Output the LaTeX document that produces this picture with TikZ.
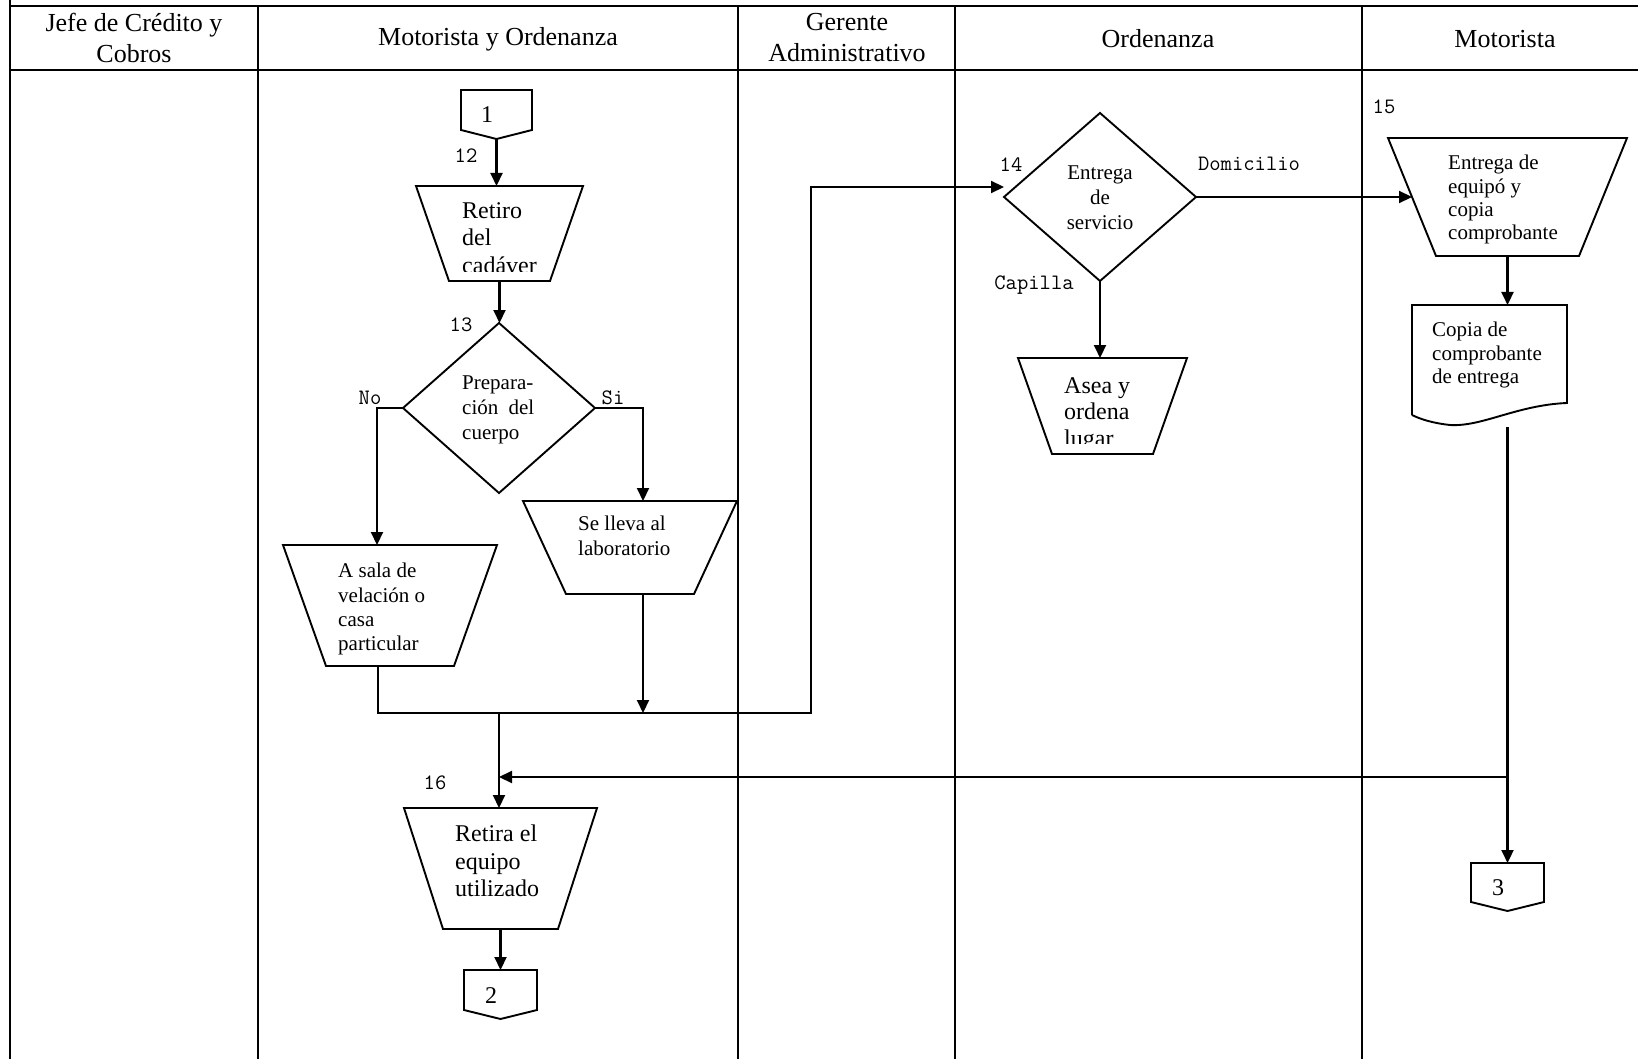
\documentclass[tikz,border=0pt]{standalone}
\usepackage{fontspec}
\setmainfont{Liberation Serif}
\usetikzlibrary{arrows.meta,calc}
\tikzset{
  lane/.style={line width=2.7pt},
  shp/.style={draw, line width=1.9pt},
  frame/.style={draw=none, inner sep=0pt, outer sep=0pt},
  arr/.style={line width=2.1pt, -{Triangle[length=13pt,width=12pt]}},
  hdr/.style={inner sep=0pt, align=center, font=\fontsize{26}{31}\selectfont},
  txt/.style={inner sep=0pt, anchor=north west, align=left},
  num/.style={inner sep=0pt, font=\fontsize{22}{24}\ttfamily},
}
\newcommand\trap[2]{\draw[shp] (#1.north west) -- (#1.north east) -- ([xshift=-#2]#1.south east) -- ([xshift=#2]#1.south west) -- cycle;}
\newcommand\offpage[1]{\draw[shp] (#1.north west) -- (#1.north east) -- ([yshift=9pt]#1.south east) -- (#1.south) -- ([yshift=9pt]#1.south west) -- cycle;}
\newcommand\diam[1]{\draw[shp] (#1.north) -- (#1.east) -- (#1.south) -- (#1.west) -- cycle;}
\begin{document}
\begin{tikzpicture}[x=1pt,y=-1pt]
\useasboundingbox (0,0) rectangle (1638,1059);
% lanes
\draw[lane] (10,0) -- (10,1059);
\draw[lane] (10,6) -- (1638,6);
\draw[lane] (10,70) -- (1638,70);
\foreach \x in {258,738,955,1362} \draw[lane] (\x,6) -- (\x,1059);
% headers
\node[hdr] (h1) at (134,38) {Jefe de Crédito y\\Cobros};
\node[hdr] (h2) at (498,39) {Motorista y Ordenanza};
\node[hdr] (h3) at (847,38) {Gerente\\Administrativo};
\node[hdr] (h4) at (1158,39) {Ordenanza};
\node[hdr] (h5) at (1505,39) {Motorista};

% connector 1
\node[frame, minimum width=71pt, minimum height=49pt] (c1) at (496.5,114.5) {};
\offpage{c1}
\node[inner sep=0pt, font=\fontsize{24}{28}\selectfont] (c1t) at (487,115) {1};
% Retiro
\node[frame, minimum width=167pt, minimum height=95pt] (retiro) at (499.5,233.5) {};
\trap{retiro}{33pt}
\begin{scope}
\clip (retiro.north west) rectangle ([yshift=9pt]retiro.south east);
\node[txt, font=\fontsize{24}{27.5}\selectfont] (retirot) at (462,202) {Retiro\\del\\cadáver};
\end{scope}
% diamond 13
\node[frame, minimum width=192pt, minimum height=170pt] (d13) at (499,408) {};
\diam{d13}
\node[txt, font=\fontsize{21}{25}\selectfont] (d13t) at (462,376) {Prepara-\\\makebox[72pt][s]{ción del}\\cuerpo};
% A sala
\node[frame, minimum width=214pt, minimum height=121pt] (asala) at (390,605.5) {};
\trap{asala}{43pt}
\node[txt, font=\fontsize{21}{24.4}\selectfont] (asalat) at (338,563) {A sala de\\velación o\\casa\\particular};
% Se lleva
\node[frame, minimum width=214pt, minimum height=93pt] (selleva) at (630,547.5) {};
\trap{selleva}{43pt}
\node[txt, font=\fontsize{21}{25}\selectfont] (sellevat) at (578,516) {Se lleva al\\laboratorio};
% Retira
\node[frame, minimum width=193pt, minimum height=121pt] (retira) at (500.5,868.5) {};
\trap{retira}{39pt}
\node[txt, font=\fontsize{24}{27.5}\selectfont] (retirat) at (455,825) {Retira el\\equipo\\utilizado};
% connector 2
\node[frame, minimum width=73pt, minimum height=49pt] (c2) at (500.5,994.5) {};
\offpage{c2}
\node[inner sep=0pt, font=\fontsize{24}{28}\selectfont] (c2t) at (491,996) {2};
% diamond 14
\node[frame, minimum width=192pt, minimum height=168pt] (d14) at (1100,197) {};
\diam{d14}
\node[inner sep=0pt, anchor=north, align=center, font=\fontsize{21}{25}\selectfont] (d14t) at (1100,166) {Entrega\\de\\servicio};
% Asea
\node[frame, minimum width=169pt, minimum height=96pt] (asea) at (1102.5,406) {};
\trap{asea}{34pt}
\begin{scope}
\clip (asea.north west) rectangle ([yshift=11pt]asea.south east);
\node[txt, font=\fontsize{24}{26.5}\selectfont] (aseat) at (1064,377) {Asea y\\ordena\\lugar};
\end{scope}
% Entrega de equipo
\node[frame, minimum width=239pt, minimum height=118pt] (equipo) at (1507.5,197) {};
\trap{equipo}{48pt}
\node[txt, font=\fontsize{21}{23.3}\selectfont] (equipot) at (1448,155) {Entrega de\\equipó y\\copia\\comprobante};
% document
\node[frame, minimum width=155pt, minimum height=110pt] (doc) at (1489.5,360) {};
\draw[shp] (doc.south west) -- (doc.north west) -- (doc.north east) -- ([yshift=12pt]doc.south east)
  .. controls ([xshift=-50pt,yshift=10pt]doc.south east) and ([xshift=70pt,yshift=-12pt]doc.south west) .. ([xshift=38pt,yshift=-10pt]doc.south west)
  .. controls ([xshift=20pt,yshift=-8pt]doc.south west) and ([xshift=8pt,yshift=-4pt]doc.south west) .. (doc.south west);
\node[txt, font=\fontsize{21}{23.5}\selectfont] (doct) at (1432,322) {Copia de\\comprobante\\de entrega};
% connector 3
\node[frame, minimum width=73pt, minimum height=48pt] (c3) at (1507.5,887) {};
\offpage{c3}
\node[inner sep=0pt, font=\fontsize{24}{28}\selectfont] (c3t) at (1498,888) {3};

% labels
\node[num] (n12) at (466,156) {12};
\node[num] (n13) at (461,325) {13};
\node[num] (n14) at (1011,165) {14};
\node[num] (n15) at (1384,107) {15};
\node[num] (n16) at (435,783) {16};
\node[num] (lno) at (370,398) {No};
\node[num] (lsi) at (613,398) {Si};
\node[num] (ldom) at (1249,164) {Domicilio};
\node[num] (lcap) at (1034,285) {Capilla};

% coordinates
\coordinate (j1) at (499,713);
\coordinate (j2) at (811,713);
\coordinate (dstart) at (1507.5,427);
\coordinate (j3) at (1507.5,777);

% connectors
\draw[arr] (c1.south) -- (c1.south |- retiro.north);
\draw[arr] (retiro.south) -- (retiro.south |- d13.north);
\draw[arr] (d13.west) -| ([xshift=-13pt]asala.north);
\draw[arr] (d13.east) -| ([xshift=13pt]selleva.north);
\draw[arr] ([xshift=-12pt]asala.south) |- (j2) |- ([yshift=10pt]d14.west);
\draw[arr] ([xshift=13pt]selleva.south) -- ([xshift=13pt]selleva.south |- j1);
\draw[arr] (j1) -- (j1 |- retira.north);
\draw[arr] (retira.south) -- (retira.south |- c2.north);
\draw[arr] (d14.south) -- (d14.south |- asea.north);
\draw[arr] (d14.east) -- ([xshift=24pt]equipo.west);
\draw[arr] (equipo.south) -- (equipo.south |- doc.north);
\draw[arr] (dstart) -- (c3.north);
\draw[arr] (j3) -- (j3 -| j1);
\end{tikzpicture}
\end{document}
